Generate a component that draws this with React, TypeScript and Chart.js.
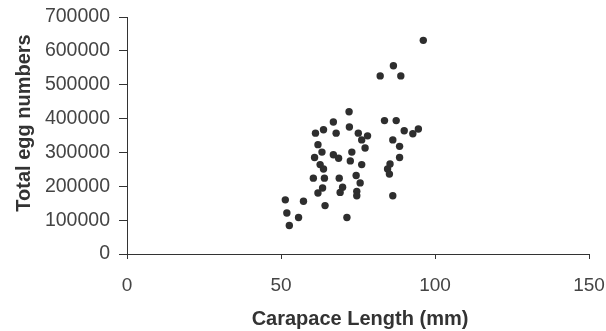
import React, { useEffect, useRef } from "react";
import { Chart, registerables } from "chart.js";

Chart.register(...registerables);

const carapaceLength: number[] = [
  72.1, 67.0, 72.2, 61.2, 63.8, 67.9, 75.1, 78.1, 76.2, 77.3,
  83.6, 62.0, 63.3, 60.9, 67.0, 68.7, 73.0, 72.5, 76.2, 62.7,
  63.8, 74.4, 60.5, 64.1, 68.9, 75.7, 63.5, 62.0, 70.0, 69.2,
  74.6, 74.6, 64.3, 51.4, 57.3, 51.9, 55.7, 71.4, 52.7,
  96.2, 86.5, 82.2, 88.9, 87.4, 90.0, 92.8, 94.6, 86.3, 88.5,
  88.5, 85.4, 84.6, 85.2, 86.3,
];
const eggNumbers: number[] = [
  420000, 390000, 375000, 357000, 367000, 357000, 357000, 349000, 337000, 313000,
  394000, 323000, 301000, 285000, 293000, 283000, 301000, 275000, 264000, 264000,
  251000, 232000, 224000, 224000, 224000, 210000, 195000, 180000, 197000, 182000,
  185000, 172000, 143000, 160000, 156000, 121000, 108000, 108000, 84000,
  631000, 556000, 526000, 526000, 394000, 364000, 355000, 369000, 337000, 318000,
  285000, 266000, 251000, 236000, 172000,
];
const xTicks: number[] = [0, 50, 100, 150];
const yTicks: number[] = [0, 100000, 200000, 300000, 400000, 500000, 600000, 700000];
const xTitle = "Carapace Length (mm)";
const yTitle = "Total egg numbers";

const FONT = "'Liberation Sans', Arial, sans-serif";

const titlesPlugin = {
  id: "axisTitles",
  afterDraw(chart: any) {
    const ctx = chart.ctx;
    ctx.save();
    ctx.fillStyle = "#333";
    ctx.font = `bold 20px ${FONT}`;
    ctx.textAlign = "center";
    ctx.textBaseline = "middle";
    const xs = chart.scales.x;
    ctx.fillText(xTitle, (xs.left + xs.right) / 2 + 2, 319);
    ctx.translate(24, 123);
    ctx.rotate(-Math.PI / 2);
    ctx.fillText(yTitle, 0, 0);
    ctx.restore();
  },
};

export default function App() {
  const ref = useRef<HTMLCanvasElement | null>(null);
  useEffect(() => {
    if (!ref.current) return;
    const points = carapaceLength.map((x, i) => ({ x, y: eggNumbers[i] }));
    const chart = new Chart(ref.current, {
      type: "scatter",
      data: {
        datasets: [
          {
            data: points,
            backgroundColor: "#2e2e2e",
            borderColor: "#2e2e2e",
            pointRadius: 3.7,
            pointBorderWidth: 0,
          },
        ],
      },
      options: {
        animation: false,
        responsive: false,
        events: [],
        layout: { padding: { left: 0, right: 17, top: 17, bottom: 0 } },
        plugins: { legend: { display: false }, tooltip: { enabled: false } },
        scales: {
          x: {
            type: "linear",
            min: xTicks[0],
            max: xTicks[xTicks.length - 1],
            afterFit: (s: any) => { s.height = 77; s.paddingLeft = 0; s.paddingRight = 0; },
            afterBuildTicks: (s: any) => { s.ticks = xTicks.map((v) => ({ value: v })); },
            grid: { drawOnChartArea: false, drawTicks: true, tickLength: 5, color: "#333", lineWidth: 1 },
            border: { display: true, color: "#333", width: 1 },
            ticks: { color: "#444", font: { family: FONT, size: 19 }, padding: 15, maxRotation: 0 },
          },
          y: {
            type: "linear",
            min: yTicks[0],
            max: yTicks[yTicks.length - 1],
            afterFit: (s: any) => { s.width = 127; s.paddingTop = 0; s.paddingBottom = 0; },
            afterBuildTicks: (s: any) => { s.ticks = yTicks.map((v) => ({ value: v })); },
            grid: { drawOnChartArea: false, drawTicks: true, tickLength: 8, color: "#333", lineWidth: 1 },
            border: { display: true, color: "#333", width: 1 },
            ticks: { color: "#444", font: { family: FONT, size: 19.5 }, padding: 9, callback: (v: any) => String(v) },
          },
        },
      },
      plugins: [titlesPlugin],
    });
    return () => chart.destroy();
  }, []);
  return (
    <div style={{ position: "fixed", left: 0, top: 0, width: 606, height: 331, background: "#fff" }}>
      <canvas ref={ref} width={606} height={331} style={{ width: 606, height: 331, display: "block" }} />
    </div>
  );
}
